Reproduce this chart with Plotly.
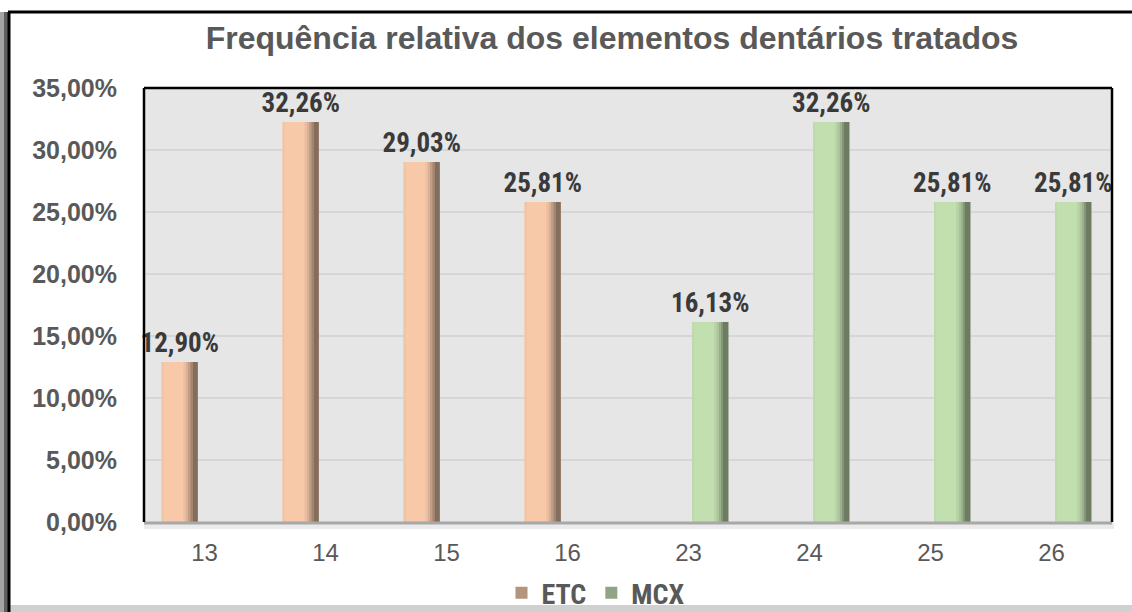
import plotly.graph_objects as go

# ---- data ----
categories = ["13", "14", "15", "16", "23", "24", "25", "26"]
etc_values = [0.1290, 0.3226, 0.2903, 0.2581, None, None, None, None]
mcx_values = [None, None, None, None, 0.1613, 0.3226, 0.2581, 0.2581]
series_names = ["ETC", "MCX"]
y_tick_vals = [0.0, 0.05, 0.10, 0.15, 0.20, 0.25, 0.30, 0.35]
title_text = "Frequência relativa dos elementos dentários tratados"

# ---- style ----
W, H = 1132, 612
ML, MR, MT, MB = 144, 20, 88, 90
PW, PH = W - ML - MR, H - MT - MB
NARROW = "Roboto Condensed, Liberation Sans Narrow, Arial Narrow, sans-serif"
SANS = "Liberation Sans, Arial, sans-serif"
GRAY = "#595959"
LABEL = "#3a3a3a"

styles = {
    "ETC": {"light": (247, 201, 169), "dark": (125, 104, 88), "offset": -0.355},
    "MCX": {"light": (194, 223, 176), "dark": (104, 118, 94), "offset": 0.03},
}
BAR_W = 0.30


def mix(c1, c2, t):
    return "rgb(%d,%d,%d)" % tuple(round(a + (b - a) * t) for a, b in zip(c1, c2))


fig = go.Figure()
series_values = {"ETC": etc_values, "MCX": mcx_values}

for name in series_names:
    st = styles[name]
    vals = series_values[name]
    # base bar with label
    fig.add_trace(go.Bar(
        x=categories, y=vals, name=name,
        width=BAR_W, offset=st["offset"],
        marker=dict(color=mix(st["light"], st["dark"], 0.0), line=dict(width=0)),
        texttemplate="%{y:.2%}", textposition="outside", constraintext="none",
        textfont=dict(family=NARROW, size=27, color=LABEL, weight="bold"),
        cliponaxis=False, hoverinfo="skip", showlegend=False,
    ))
    # shading strips (cylinder look)
    strips = [(0.0, 0.06, 0.05), (0.60, 0.67, 0.1), (0.67, 0.73, 0.25), (0.73, 0.79, 0.45),
              (0.79, 0.85, 0.7), (0.85, 1.0, 0.95)]
    for a, b, t in strips:
        fig.add_trace(go.Bar(
            x=categories, y=vals, width=BAR_W * (b - a),
            offset=st["offset"] + BAR_W * a,
            marker=dict(color=mix(st["light"], st["dark"], t), line=dict(width=0)),
            hoverinfo="skip", showlegend=False,
        ))
    # legend entry
    fig.add_trace(go.Bar(
        x=[None], y=[None], name=name,
        marker=dict(color=mix(st["light"], st["dark"], 0.55), line=dict(width=0)),
        showlegend=True, hoverinfo="skip",
    ))


def px_x(px):
    return (px - ML) / PW


def px_y(py):
    return (MT + PH - py) / PH


shapes = []
# outer frame: shadow at left + black line at top and left, gray bottom band
shapes.append(dict(type="rect", xref="paper", yref="paper", x0=px_x(0), x1=px_x(8),
                   y0=px_y(612), y1=px_y(12), fillcolor="#a5a5a5", line=dict(width=0), layer="below"))
shapes.append(dict(type="rect", xref="paper", yref="paper", x0=px_x(4), x1=px_x(8),
                   y0=px_y(612), y1=px_y(12), fillcolor="#606060", line=dict(width=0), layer="below"))
shapes.append(dict(type="line", xref="paper", yref="paper", x0=px_x(8), x1=px_x(1132),
                   y0=px_y(12), y1=px_y(12), line=dict(color="black", width=3)))
shapes.append(dict(type="line", xref="paper", yref="paper", x0=px_x(9), x1=px_x(9),
                   y0=px_y(612), y1=px_y(12), line=dict(color="black", width=3)))
shapes.append(dict(type="rect", xref="paper", yref="paper", x0=px_x(9), x1=px_x(1132),
                   y0=px_y(612), y1=px_y(605), fillcolor="#d0d0d0", line=dict(width=0), layer="below"))
# floor shadow under plot
shapes.append(dict(type="rect", xref="paper", yref="paper", x0=0, x1=px_x(1114),
                   y0=px_y(529), y1=0, fillcolor="#ebebeb", line=dict(width=0), layer="below"))
shapes.append(dict(type="line", xref="paper", yref="paper", x0=0, x1=1,
                   y0=px_y(523), y1=px_y(523), line=dict(color="#a8a8a8", width=3)))
# plot border: left, top, right black
shapes.append(dict(type="line", xref="paper", yref="paper", x0=0, x1=0, y0=0, y1=1,
                   line=dict(color="black", width=2.5)))
shapes.append(dict(type="line", xref="paper", yref="paper", x0=0, x1=1, y0=1, y1=1,
                   line=dict(color="black", width=2.5)))
shapes.append(dict(type="line", xref="paper", yref="paper", x0=1, x1=1, y0=0, y1=1,
                   line=dict(color="black", width=2.5)))

fig.update_layout(
    width=W, height=H,
    margin=dict(l=ML, r=MR, t=MT, b=MB, autoexpand=False),
    paper_bgcolor="white", plot_bgcolor="#e6e6e6",
    separators=",.",
    barmode="overlay",
    title=dict(text=title_text, x=px_x(612), xref="paper", xanchor="center",
               y=1 - 38 / H, yanchor="middle",
               font=dict(family=SANS, size=32, color=GRAY, weight="bold")),
    xaxis=dict(type="category", showgrid=False, zeroline=False, showline=False,
               ticks="", ticklabelstandoff=14,
               tickfont=dict(family=SANS, size=24, color=GRAY), fixedrange=True),
    yaxis=dict(range=[0, 0.35], tickvals=y_tick_vals, tickformat=".2%",
               showgrid=True, gridcolor="#d6d6d6", gridwidth=2, zeroline=False,
               showline=False, ticks="", ticklabelstandoff=26,
               tickfont=dict(family=SANS, size=25, color=GRAY, weight="bold"),
               fixedrange=True),
    legend=dict(orientation="h", x=px_x(596), xanchor="center", y=px_y(593), yanchor="middle",
                font=dict(family=NARROW, size=28, color=GRAY, weight="bold"),
                bgcolor="rgba(0,0,0,0)", itemwidth=30, tracegroupgap=0),
    shapes=shapes,
    showlegend=True,
)

fig.write_html("out.html", config={"displayModeBar": False},
               post_script="document.body.style.margin='0px';")
